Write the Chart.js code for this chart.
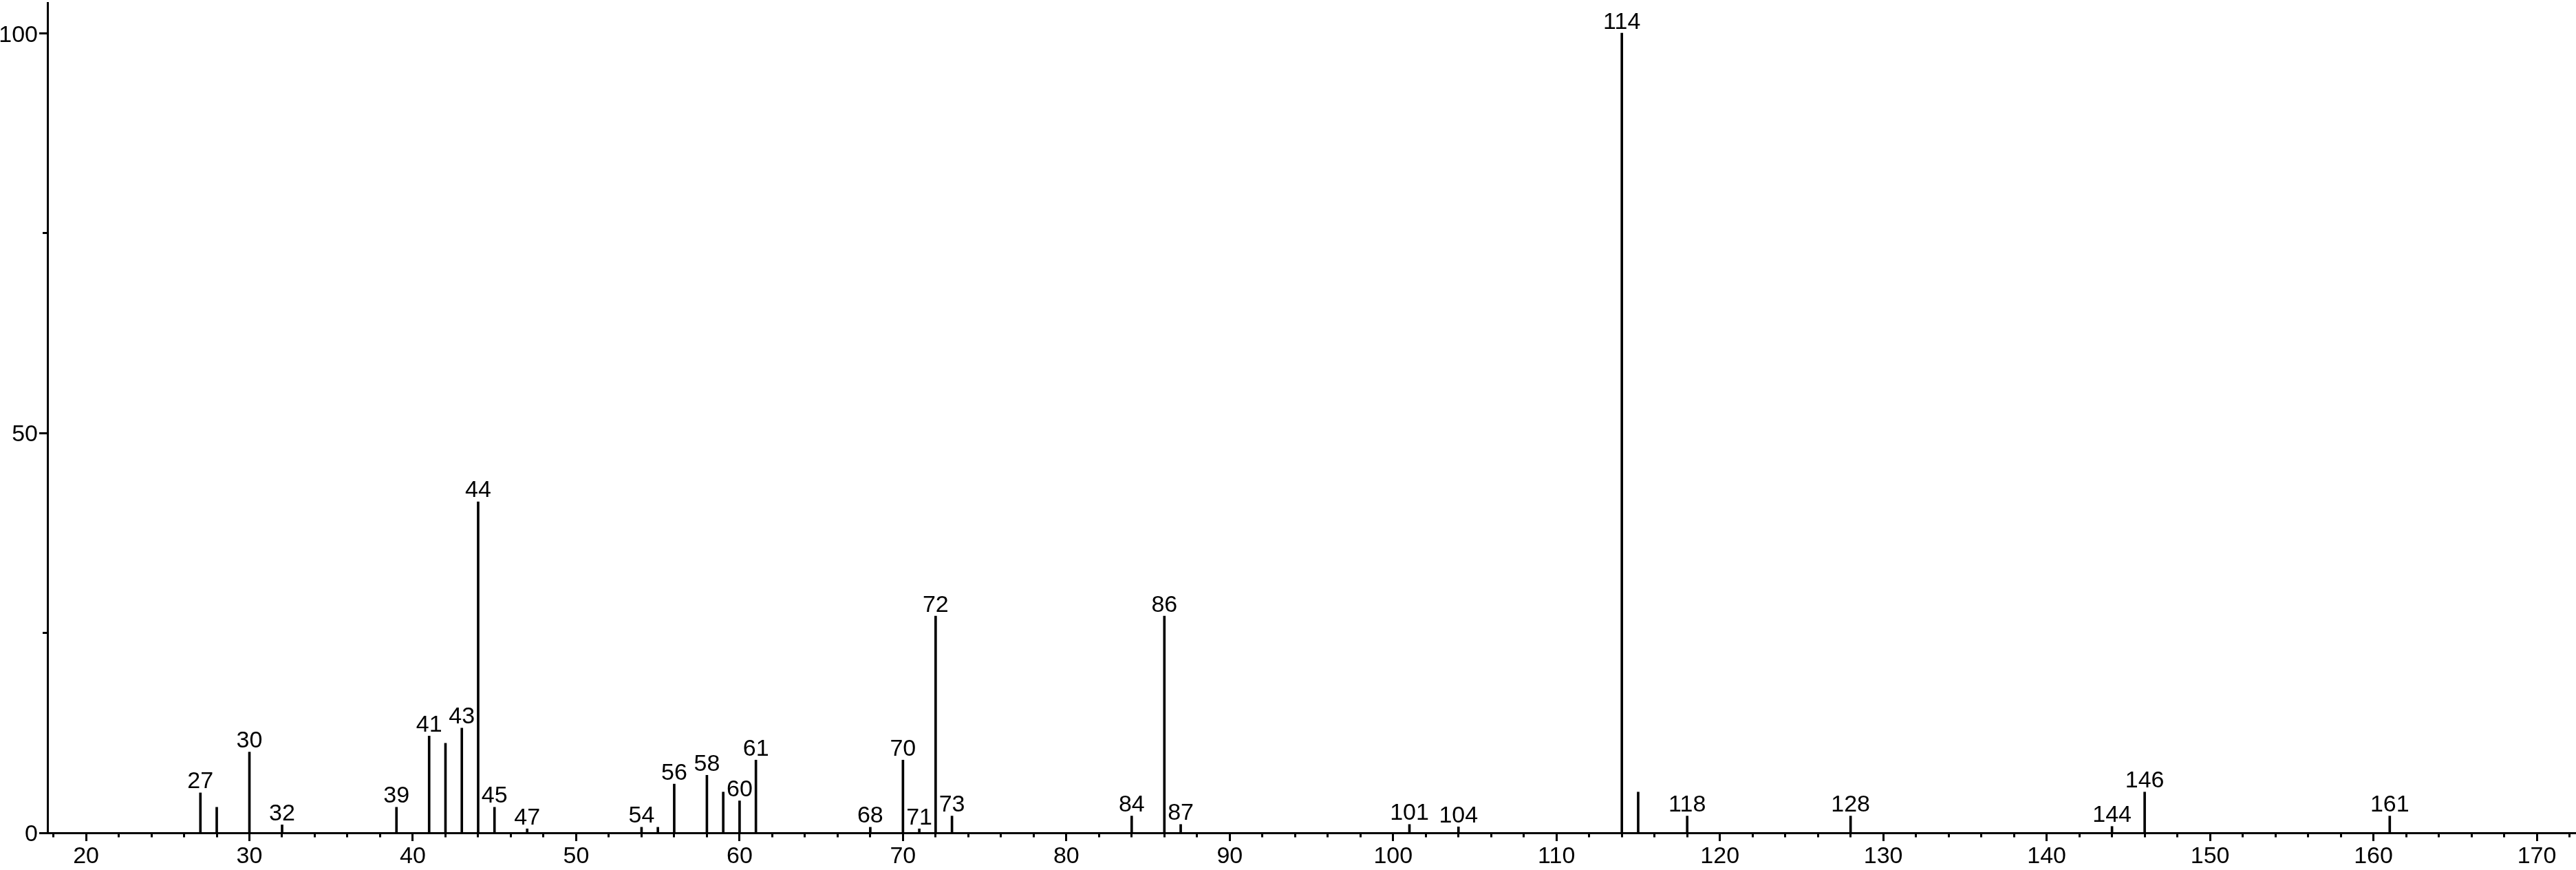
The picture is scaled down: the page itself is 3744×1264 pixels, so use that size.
<!DOCTYPE html>
<html>
<head>
<meta charset="utf-8">
<script src="https://cdn.jsdelivr.net/npm/chart.js@4/dist/chart.umd.min.js"></script>
<style>
  html, body { margin: 0; padding: 0; background: #fff; }
  #wrap { width: 3744px; height: 1264px; }
</style>
</head>
<body>
<div id="wrap"><canvas id="c" width="3744" height="1264"></canvas></div>
<script>
// m/z values of the peaks
const mz = [27, 28, 30, 32, 39, 41, 42, 43, 44, 45, 47, 54, 55, 56, 58, 59, 60, 61,
            68, 70, 71, 72, 73, 84, 86, 87, 101, 104, 114, 115, 118, 128, 144, 146, 161];
// relative intensities (%)
const intensity = [5.0, 3.2, 10.1, 1.0, 3.2, 12.1, 11.2, 13.1, 41.4, 3.2, 0.5, 0.7, 0.7, 6.1, 7.2, 5.1, 4.0, 9.1,
                   0.7, 9.1, 0.5, 27.1, 2.1, 2.1, 27.1, 1.05, 1.05, 0.75, 100, 5.1, 2.1, 2.1, 0.8, 5.1, 2.1];
// peaks that carry a text label
const labeledPeaks = [27, 30, 32, 39, 41, 43, 44, 45, 47, 54, 56, 58, 60, 61, 68, 70, 71, 72, 73,
                      84, 86, 87, 101, 104, 114, 118, 128, 144, 146, 161];
// axis tick labels
const xTickLabels = [20, 30, 40, 50, 60, 70, 80, 90, 100, 110, 120, 130, 140, 150, 160, 170];
const yTickLabels = [0, 50, 100];

const FONT_FAMILY = '"Liberation Sans", Arial, Helvetica, sans-serif';
const FONT_SIZE = 34;

const peakLabelPlugin = {
  id: 'peakLabels',
  afterDatasetsDraw(chart) {
    const meta = chart.getDatasetMeta(0);
    const ctx = chart.ctx;
    ctx.save();
    ctx.fillStyle = '#000';
    ctx.font = FONT_SIZE + 'px ' + FONT_FAMILY;
    ctx.textAlign = 'center';
    ctx.textBaseline = 'alphabetic';
    meta.data.forEach((el, i) => {
      if (labeledPeaks.includes(mz[i])) {
        ctx.fillText(String(mz[i]), el.x, el.y - 6.5);
      }
    });
    ctx.restore();
  }
};

new Chart(document.getElementById('c'), {
  type: 'bar',
  data: {
    datasets: [{
      data: mz.map((x, i) => ({ x: x, y: intensity[i] })),
      backgroundColor: '#000',
      borderWidth: 0,
      barThickness: 3
    }]
  },
  options: {
    responsive: false,
    animation: false,
    devicePixelRatio: 1,
    layout: { padding: { top: 4, left: 0, right: 0, bottom: 0 } },
    plugins: { legend: { display: false }, tooltip: { enabled: false } },
    scales: {
      x: {
        type: 'linear',
        min: 17.64,
        max: 172.4,
        offset: false,
        afterFit: s => { s.height = 54; s.paddingLeft = 0; s.paddingRight = 0; },
        border: { color: '#000', width: 3 },
        grid: {
          offset: false,
          drawOnChartArea: false,
          color: '#000',
          tickColor: '#000',
          tickLength: 12,
          tickWidth: 3,
          tickBorderDash: c => (xTickLabels.includes(c.tick && c.tick.value) ? [] : [4.5, 100])
        },
        ticks: {
          stepSize: 2,
          autoSkip: false,
          includeBounds: false,
          maxRotation: 0,
          padding: 2,
          color: '#000',
          font: { family: FONT_FAMILY, size: FONT_SIZE },
          callback: v => (xTickLabels.includes(v) ? String(v) : '')
        }
      },
      y: {
        type: 'linear',
        min: 0,
        max: 103.8,
        afterFit: s => { s.width = 69; s.paddingTop = 0; s.paddingBottom = 0; },
        border: { color: '#000', width: 3 },
        grid: {
          drawOnChartArea: false,
          color: '#000',
          tickColor: '#000',
          tickLength: 12,
          tickWidth: 3,
          tickBorderDash: c => (yTickLabels.includes(c.tick && c.tick.value) ? [] : [0, 5, 10, 100])
        },
        ticks: {
          stepSize: 25,
          includeBounds: false,
          padding: 2,
          labelOffset: 3,
          color: '#000',
          font: { family: FONT_FAMILY, size: FONT_SIZE },
          callback: v => (yTickLabels.includes(v) ? String(v) : '')
        }
      }
    }
  },
  plugins: [peakLabelPlugin]
});
</script>
</body>
</html>
